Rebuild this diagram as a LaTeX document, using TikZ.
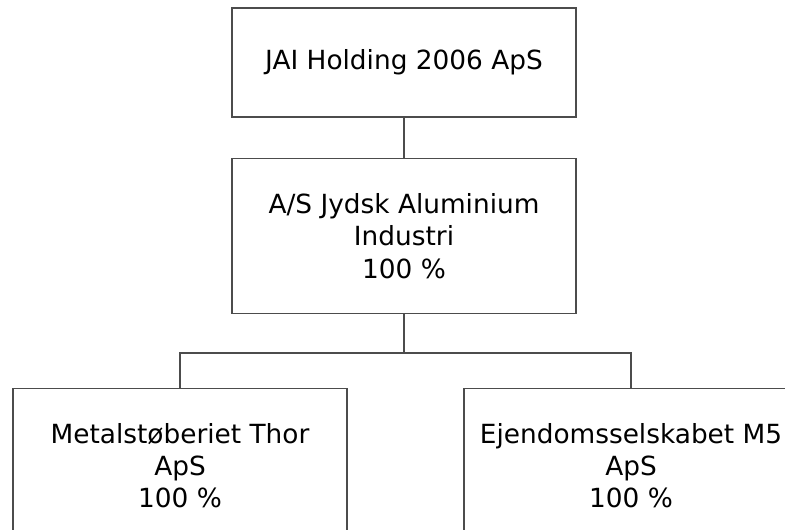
\documentclass[tikz,border=0pt]{standalone}
\usepackage{fontspec}
\setmainfont{DejaVu Sans}
\usepackage{tikz}
\usetikzlibrary{positioning}

\begin{document}
\begin{tikzpicture}[
    x=0.02cm, y=-0.02cm,
    company/.style={
        draw=black!70,
        line width=0.9pt,
        align=center,
        font=\fontsize{15}{18.3}\selectfont,
        minimum width=6.88cm,
        minimum height=3.1cm
    },
    owner/.style={company, minimum height=2.18cm},
    sub/.style={company, minimum width=6.68cm},
    link/.style={draw=black!70, line width=0.9pt}
]
\clip (0,0) rectangle (785,530);
\fill[white] (0,0) rectangle (785,530);

\node[owner] (holding) at (404,62.5) {JAI Holding 2006 ApS};
\node[company, below=0.8cm of holding] (jai) {A/S Jydsk Aluminium\\Industri\\100 \%};
\node[sub] (thor) at (180,466) {Metalstøberiet Thor\\ApS\\100 \%};
\node[sub] (m5) at (631,466) {Ejendomsselskabet M5\\ApS\\100 \%};

\coordinate (bus) at (404,353);

\draw[link] (holding.south) -- (jai.north);
\draw[link] (jai.south) -- (bus);
\draw[link] (thor.north) |- (bus) -| (m5.north);
\end{tikzpicture}
\end{document}
